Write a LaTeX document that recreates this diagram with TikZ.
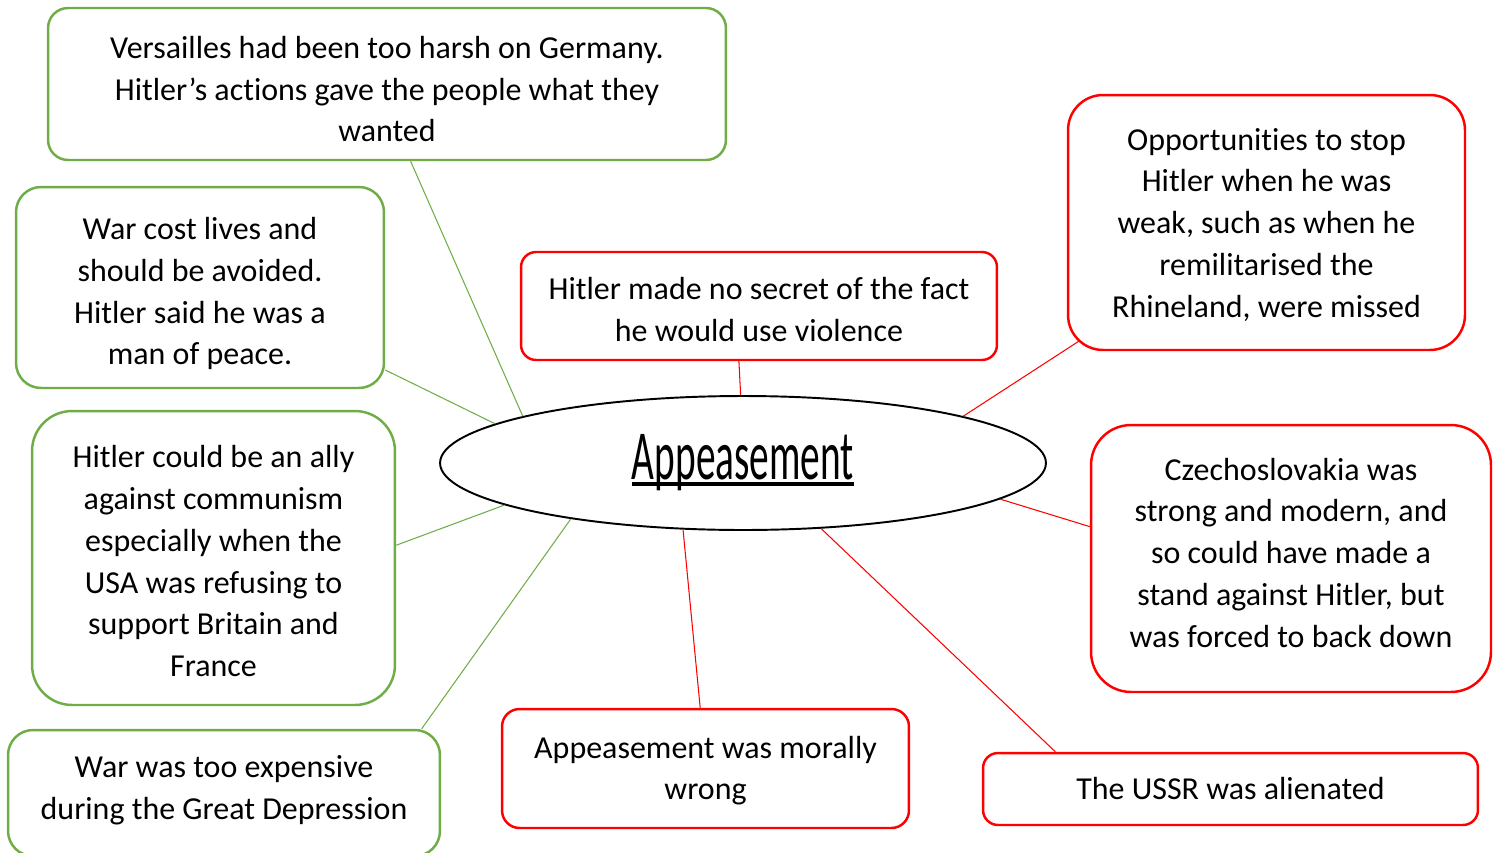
\documentclass[tikz,border=0pt]{standalone}
\usepackage{fontspec}
\setmainfont{Carlito}[Ligatures=NoCommon]
\usetikzlibrary{shapes.geometric}
\definecolor{leafgreen}{RGB}{112,173,71}
\definecolor{leafred}{RGB}{255,0,0}
\newcommand\titleline[1]{\setbox0\hbox{#1}\rlap{\rule[-3.2pt]{\wd0}{1.8pt}}\box0}
\newcommand\padtop[1]{\rule{0pt}{#1}}
\tikzset{%
  every reason/.style={
    draw,
    line width=1.4pt,
    fill=white,
    align=center,
    inner sep=0pt,
    font=\fontsize{18.2}{23.8}\selectfont
  },
  reason for/.style={every reason, draw=leafgreen},
  reason against/.style={every reason, draw=leafred},
  text up/.style={execute at end node={\rule[-#1]{0pt}{#1}}},
  link for/.style={draw=leafgreen, line width=0.6pt},
  link against/.style={draw=leafred, line width=0.6pt},
}

\begin{document}
\begin{tikzpicture}[x=0.02cm, y=-0.02cm]
        \useasboundingbox (0,0) rectangle (1496,852);

        % centre
        \node [ellipse, draw, line width=1.1pt, minimum width=12.12cm, minimum height=2.68cm, inner sep=0pt]
        (app) at (743,463) {\scalebox{0.56}[1]{\fontsize{40}{40}\selectfont\titleline{Appeasement}}};

        % reasons for
        \node [reason for, rounded corners=0.4cm, minimum width=13.56cm, minimum height=3.04cm] (vers) at (387,84)
        {\padtop{18.5pt}Versailles had been too harsh on Germany.\\ Hitler’s actions gave the people what they\\ wanted};
        \node [reason for, rounded corners=0.5cm, minimum width=7.36cm, minimum height=4.02cm] (cost) at (200,287.5)
        {\padtop{19.6pt}War cost lives and\\ should be avoided.\\ Hitler said he was a\\ man of peace.};
        \node [reason for, rounded corners=0.8cm, minimum width=7.26cm, minimum height=5.88cm] (ally) at (213.5,558)
        {\padtop{16.2pt}Hitler could be an ally\\ against communism\\ especially when the\\ USA was refusing to\\ support Britain and\\ France};
        \node [reason for, text up=6pt, rounded corners=0.5cm, minimum width=8.64cm, minimum height=2.52cm] (money) at (224,793)
        {War was too expensive\\ during the Great Depression};

        % reasons against
        \node [reason against, rounded corners=0.3cm, minimum width=9.52cm, minimum height=2.16cm] (nosec) at (759,306)
        {\padtop{16.2pt}Hitler made no secret of the fact\\ he would use violence};
        \node [reason against, rounded corners=0.7cm, minimum width=7.94cm, minimum height=5.1cm] (chance) at (1266.5,222.5)
        {\padtop{15.1pt}Opportunities to stop\\ Hitler when he was\\ weak, such as when he\\ remilitarised the\\ Rhineland, were missed};
        \node [reason against, text up=6.8pt, rounded corners=0.8cm, minimum width=8cm, minimum height=5.34cm] (czech) at (1291,558.5)
        {Czechoslovakia was\\ strong and modern, and\\ so could have made a\\ stand against Hitler, but\\ was forced to back down};
        \node [reason against, rounded corners=0.35cm, minimum width=8.14cm, minimum height=2.38cm] (moral) at (705.5,768.5)
        {\padtop{15.1pt}Appeasement was morally\\ wrong};
        \node [reason against, rounded corners=0.3cm, minimum width=9.9cm, minimum height=1.44cm] (ussr) at (1230.5,789)
        {The USSR was alienated};

        % links
        \foreach \a/\b/\n in {168.2/-73.2/vers, 171.6/-24.3/cost, 190.5/4.1/ally, 198.1/18.8/money}
        \draw [link for] (app.\a) -- (\n.\b);

        \foreach \a/\b/\n in {92.6/250.6/nosec, -8.8/171.9/czech, 228.6/95.3/moral, -40.2/168.6/ussr}
        \draw [link against] (app.\a) -- (\n.\b);

        \coordinate (chance-corner) at ([xshift=0.24cm, yshift=0.2cm]chance.south west);
        \draw [link against] (app.12.4) -- (chance-corner);

\end{tikzpicture}
\end{document}
